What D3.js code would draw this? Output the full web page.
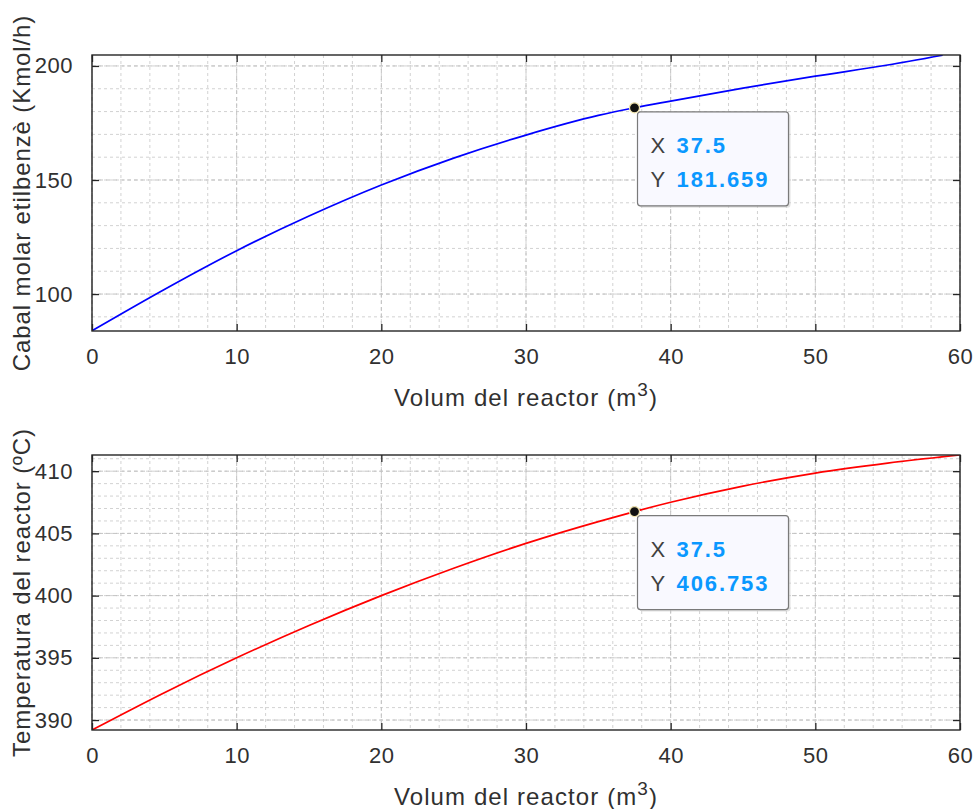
<!DOCTYPE html>
<html>
<head>
<meta charset="utf-8">
<script src="https://cdn.jsdelivr.net/npm/d3@7"></script>
<style>
  html, body { margin: 0; padding: 0; background: #ffffff; }
  svg { display: block; font-family: "Liberation Sans", Arial, Helvetica, sans-serif; }
</style>
</head>
<body>
<svg id="chart" width="978" height="809"></svg>
<script>
// ---------- data ----------
const xTicks = [0, 10, 20, 30, 40, 50, 60];
const xLabel = "Volum del reactor (m";

// top panel: molar flow of ethylbenzene
const volTop = [0, 5, 10, 15, 20, 25, 30, 35, 37.5, 40, 45, 50, 55, 58.8];
const flowTop = [83.9, 102, 119, 134.2, 147.8, 159.6, 169.7, 178.3, 181.659, 184.6, 190.3, 195.5, 200.4, 204.7];
const yTicksTop = [100, 150, 200];
const yLabelTop = "Cabal molar etilbenzè (Kmol/h)";
const tipTop = { x: 37.5, y: 181.659, xs: "37.5", ys: "181.659" };

// bottom panel: reactor temperature
const volBottom = [0, 5, 10, 15, 20, 25, 30, 35, 37.5, 40, 45, 50, 55, 60];
const tempBottom = [389.2, 392.2, 395.0, 397.6, 400.0, 402.2, 404.2, 405.95, 406.753, 407.5, 408.8, 409.85, 410.65, 411.3];
const yTicksBottom = [390, 395, 400, 405, 410];
const yLabelBottom = "Temperatura del reactor (ºC)";
const tipBottom = { x: 37.5, y: 406.753, xs: "37.5", ys: "406.753" };

// ---------- drawing ----------
const svg = d3.select("#chart");
const AX = "#262626";
const TXT = "#303030";

function panel(cfg) {
  const { left, top, width, height, xs, ys, yDomain, yTicks, yMinor, yLabel, color, tip } = cfg;
  const g = svg.append("g").attr("transform", `translate(${left},${top})`);
  const x = d3.scaleLinear().domain([0, 60]).range([0, width]);
  const y = d3.scaleLinear().domain(yDomain).range([height, 0]);

  const clipId = "clip" + Math.round(top);
  g.append("clipPath").attr("id", clipId)
    .append("rect").attr("x", 0).attr("y", 0).attr("width", width).attr("height", height);

  // minor grid
  const xMinor = d3.range(0, 60.001, 2);
  g.append("g").selectAll("line").data(xMinor).join("line")
    .attr("x1", d => x(d)).attr("x2", d => x(d)).attr("y1", 0).attr("y2", height)
    .attr("stroke", "#d2d2d2").attr("stroke-width", 1).attr("stroke-dasharray", "3,3");
  g.append("g").selectAll("line").data(yMinor).join("line")
    .attr("x1", 0).attr("x2", width).attr("y1", d => y(d)).attr("y2", d => y(d))
    .attr("stroke", "#d2d2d2").attr("stroke-width", 1).attr("stroke-dasharray", "3,3");
  // major grid
  g.append("g").selectAll("line").data(xTicks).join("line")
    .attr("x1", d => x(d)).attr("x2", d => x(d)).attr("y1", 0).attr("y2", height)
    .attr("stroke", "#c2c2c2").attr("stroke-width", 1).attr("stroke-dasharray", "4,3");
  g.append("g").selectAll("line").data(yTicks).join("line")
    .attr("x1", 0).attr("x2", width).attr("y1", d => y(d)).attr("y2", d => y(d))
    .attr("stroke", "#c2c2c2").attr("stroke-width", 1).attr("stroke-dasharray", "4,3");

  // curve
  const line = d3.line().x((d, i) => x(xs[i])).y(d => y(d)).curve(d3.curveMonotoneX);
  g.append("path").datum(ys).attr("d", line)
    .attr("fill", "none").attr("stroke", color).attr("stroke-width", 1.7)
    .attr("clip-path", `url(#${clipId})`);

  // axes (ticks inward on all four sides)
  const tl = 7;
  g.append("g").attr("transform", `translate(0,${height})`)
    .call(d3.axisBottom(x).tickValues(xTicks).tickSize(-tl).tickPadding(tl + 10).tickFormat(d3.format("d")))
    .call(a => a.select(".domain").remove());
  g.append("g")
    .call(d3.axisTop(x).tickValues(xTicks).tickSize(-tl).tickFormat(""))
    .call(a => a.select(".domain").remove());
  g.append("g")
    .call(d3.axisLeft(y).tickValues(yTicks).tickSize(-tl).tickPadding(tl + 12).tickFormat(d3.format("d")))
    .call(a => a.select(".domain").remove());
  g.append("g").attr("transform", `translate(${width},0)`)
    .call(d3.axisRight(y).tickValues(yTicks).tickSize(-tl).tickFormat(""))
    .call(a => a.select(".domain").remove());
  g.selectAll(".tick line").attr("stroke", AX).attr("stroke-width", 1.3);
  g.selectAll(".tick text").attr("fill", TXT).attr("font-size", 22).attr("letter-spacing", 0.5)
    .attr("font-family", '"Liberation Sans", Arial, sans-serif');

  // box
  g.append("rect").attr("x", 0).attr("y", 0).attr("width", width).attr("height", height)
    .attr("fill", "none").attr("stroke", AX).attr("stroke-width", 1.4);

  // x label
  const xl = g.append("text").attr("x", width / 2).attr("y", height + 75)
    .attr("text-anchor", "middle").attr("fill", TXT).attr("font-size", 24).attr("letter-spacing", 1.1);
  xl.append("tspan").text(xLabel);
  xl.append("tspan").attr("dy", -10).attr("font-size", 19).text("3");
  xl.append("tspan").attr("dy", 10).text(")");

  // y label
  g.append("text").attr("transform", `translate(${-62},${height / 2}) rotate(-90)`)
    .attr("text-anchor", "middle").attr("fill", TXT).attr("font-size", 24).attr("letter-spacing", 0.9)
    .text(yLabel);

  // data tip
  const px = x(tip.x), py = y(tip.y);
  const bx = px + 3, by = py + 4, bw = 151, bh = 94;
  g.append("rect").attr("x", bx + 2).attr("y", by + 2).attr("width", bw).attr("height", bh)
    .attr("rx", 3).attr("fill", "#d0d0d0").attr("opacity", 0.6);
  g.append("rect").attr("x", bx).attr("y", by).attr("width", bw).attr("height", bh)
    .attr("rx", 3).attr("fill", "#f9f9ff").attr("stroke", "#7a7a7a").attr("stroke-width", 1.2);
  const rows = [["X", tip.xs, 41], ["Y", tip.ys, 75]];
  rows.forEach(([lab, val, dy]) => {
    g.append("text").attr("x", bx + 13).attr("y", by + dy).attr("font-size", 22)
      .attr("fill", "#404040").text(lab);
    g.append("text").attr("x", bx + 39).attr("y", by + dy).attr("font-size", 22)
      .attr("letter-spacing", 1.9).attr("font-weight", "bold").attr("fill", "#0a98ff").text(val);
  });
  g.append("circle").attr("cx", px).attr("cy", py).attr("r", 5)
    .attr("fill", "#111111").attr("stroke", "#f3e6b0").attr("stroke-width", 1.2);
}

panel({
  left: 92, top: 55, width: 868, height: 276,
  xs: volTop, ys: flowTop, yDomain: [83.8, 204.8], yTicks: yTicksTop,
  yMinor: d3.range(90, 200.001, 10), yLabel: yLabelTop, color: "#0000ff", tip: tipTop
});
panel({
  left: 92, top: 455, width: 868, height: 275,
  xs: volBottom, ys: tempBottom, yDomain: [389.2, 411.3], yTicks: yTicksBottom,
  yMinor: d3.range(390, 411.001, 1), yLabel: yLabelBottom, color: "#ff0000", tip: tipBottom
});
</script>
</body>
</html>
